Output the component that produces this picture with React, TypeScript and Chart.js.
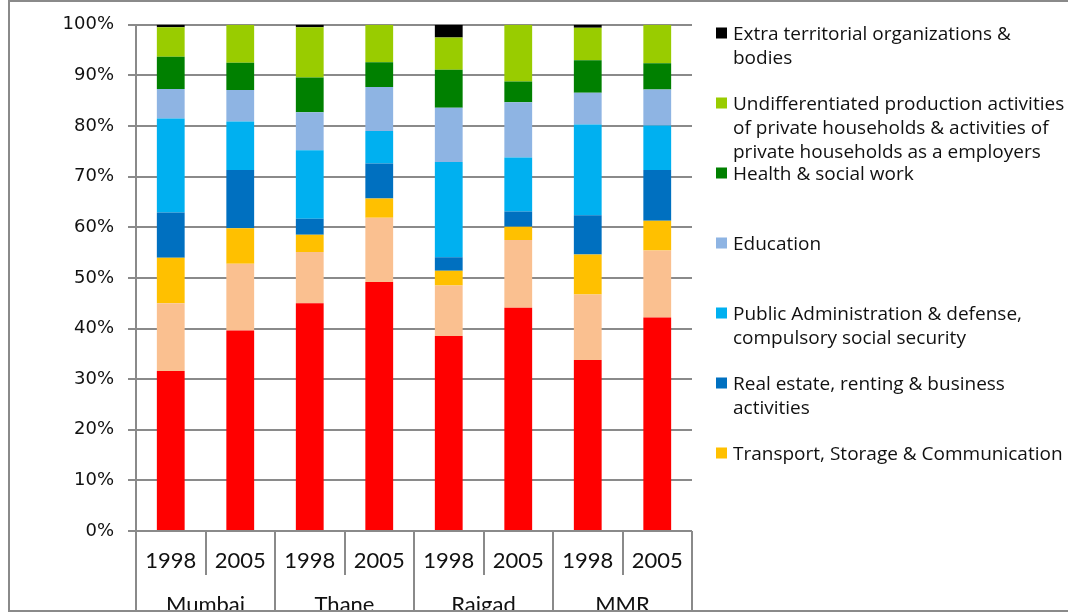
import React, { useEffect, useRef } from "react";
import { Chart, registerables } from "chart.js";

Chart.register(...registerables);

// ---------- data ----------
const years = ["1998", "2005", "1998", "2005", "1998", "2005", "1998", "2005"];
const regions = ["Mumbai", "Thane", "Raigad", "MMR"];

// series listed bottom -> top of each stack (percent shares)
const seriesRed = [31.6, 39.6, 45.0, 49.2, 38.5, 44.1, 33.8, 42.2];
const seriesPeach = [13.4, 13.2, 10.1, 12.7, 10.0, 13.4, 12.9, 13.2];
const transport = [9.0, 7.0, 3.4, 3.8, 2.9, 2.6, 7.9, 5.9];
const realEstate = [8.9, 11.5, 3.2, 6.9, 2.7, 3.0, 7.8, 10.0];
const publicAdmin = [18.6, 9.6, 13.5, 6.4, 18.8, 10.7, 17.9, 8.8];
const education = [5.8, 6.2, 7.5, 8.7, 10.7, 10.9, 6.3, 7.1];
const health = [6.4, 5.4, 6.9, 4.9, 7.5, 4.1, 6.4, 5.2];
const undifferentiated = [5.8, 7.5, 9.9, 7.4, 6.4, 11.2, 6.4, 7.6];
const extraTerritorial = [0.5, 0, 0.5, 0, 2.5, 0, 0.6, 0];

const seriesNames = [
  "Manufacturing",
  "Wholesale & retail trade",
  "Transport, Storage & Communication",
  "Real estate, renting & business\nactivities",
  "Public Administration & defense,\ncompulsory social security",
  "Education",
  "Health & social work",
  "Undifferentiated production activities\nof private households & activities of\nprivate households as a employers",
  "Extra territorial organizations &\nbodies",
];
const seriesValues = [
  seriesRed,
  seriesPeach,
  transport,
  realEstate,
  publicAdmin,
  education,
  health,
  undifferentiated,
  extraTerritorial,
];
const seriesColors = [
  "#FF0000",
  "#FAC090",
  "#FFC000",
  "#0070C0",
  "#00B0F0",
  "#8EB4E3",
  "#008000",
  "#99CC00",
  "#000000",
];
const yTickValues = [0, 10, 20, 30, 40, 50, 60, 70, 80, 90, 100];
const legendShown = 7; // legend in the source is truncated after 7 entries

const W = 1068;
const H = 615;
const GRID = "#8a8a8a";

const decorPlugin = {
  id: "decor",
  afterDraw(chart: any) {
    const { ctx, chartArea } = chart;
    const { left, right, bottom } = chartArea;
    const xScale = chart.scales.x;
    ctx.save();
    // outer frame
    ctx.strokeStyle = GRID;
    ctx.lineWidth = 2;
    ctx.strokeRect(9, 1, W + 10, 610);

    // category separators
    const n = years.length;
    const step = (right - left) / n;
    ctx.beginPath();
    for (let i = 0; i <= n; i++) {
      const x = Math.round(left + i * step);
      ctx.moveTo(x, bottom);
      ctx.lineTo(x, i % 2 === 0 ? 611 : 575);
    }
    ctx.stroke();

    // year labels
    ctx.fillStyle = "#111";
    ctx.font = "22px Lato";
    ctx.textAlign = "center";
    ctx.textBaseline = "alphabetic";
    years.forEach((y, i) => {
      const x = xScale.getPixelForValue(i);
      ctx.fillText(y, x, 568);
    });
    // region labels (clipped by frame)
    ctx.save();
    ctx.beginPath();
    ctx.rect(0, 0, W, 610);
    ctx.clip();
    regions.forEach((r, g) => {
      const x = (xScale.getPixelForValue(g * 2) + xScale.getPixelForValue(g * 2 + 1)) / 2;
      ctx.fillText(r, x, 612);
    });
    ctx.restore();

    // legend
    ctx.textAlign = "left";
    ctx.font = "19px 'Open Sans'";
    const order = seriesNames.map((_, i) => i).reverse().slice(0, legendShown);
    order.forEach((si, k) => {
      const base = 39.5 + k * 70;
      ctx.fillStyle = seriesColors[si];
      ctx.fillRect(716, base - 12, 11, 11);
      ctx.fillStyle = "#111";
      seriesNames[si].split("\n").forEach((line, li) => {
        ctx.fillText(line, 733, base + li * 24);
      });
    });
    ctx.restore();
  },
};

export default function App() {
  const ref = useRef<HTMLCanvasElement | null>(null);
  useEffect(() => {
    if (!ref.current) return;
    const chart = new Chart(ref.current, {
      type: "bar",
      data: {
        labels: years.map((y, i) => `${regions[Math.floor(i / 2)]} ${y}`),
        datasets: seriesValues.map((vals, i) => ({
          label: seriesNames[i].replace(/\n/g, " "),
          data: vals,
          backgroundColor: seriesColors[i],
          borderWidth: 0,
          categoryPercentage: 1,
          barPercentage: 0.4,
        })),
      },
      options: {
        animation: false,
        responsive: false,
        maintainAspectRatio: false,
        layout: { padding: { left: 0, right: W - 692, top: 24, bottom: H - 531 } },
        plugins: { legend: { display: false }, tooltip: { enabled: false } },
        scales: {
          x: { stacked: true, display: false },
          y: {
            stacked: true,
            min: 0,
            max: 100,
            afterFit: (s: any) => {
              s.width = 136;
            },
            afterBuildTicks: (s: any) => {
              s.ticks = yTickValues.map((v) => ({ value: v }));
            },
            ticks: {
              callback: (v: any) => `${v}%`,
              font: { family: "DejaVu Sans", size: 18 },
              color: "#111",
              padding: 14,
            },
            grid: { color: GRID, lineWidth: 2, tickLength: 8, drawTicks: true },
            border: { display: true, color: GRID, width: 2 },
          },
        },
      },
      plugins: [decorPlugin],
    });
    return () => chart.destroy();
  }, []);
  return (
    <div style={{ position: "fixed", left: 0, top: 0, width: W, height: H, background: "#fff" }}>
      <canvas ref={ref} width={W} height={H} style={{ display: "block" }} />
    </div>
  );
}
